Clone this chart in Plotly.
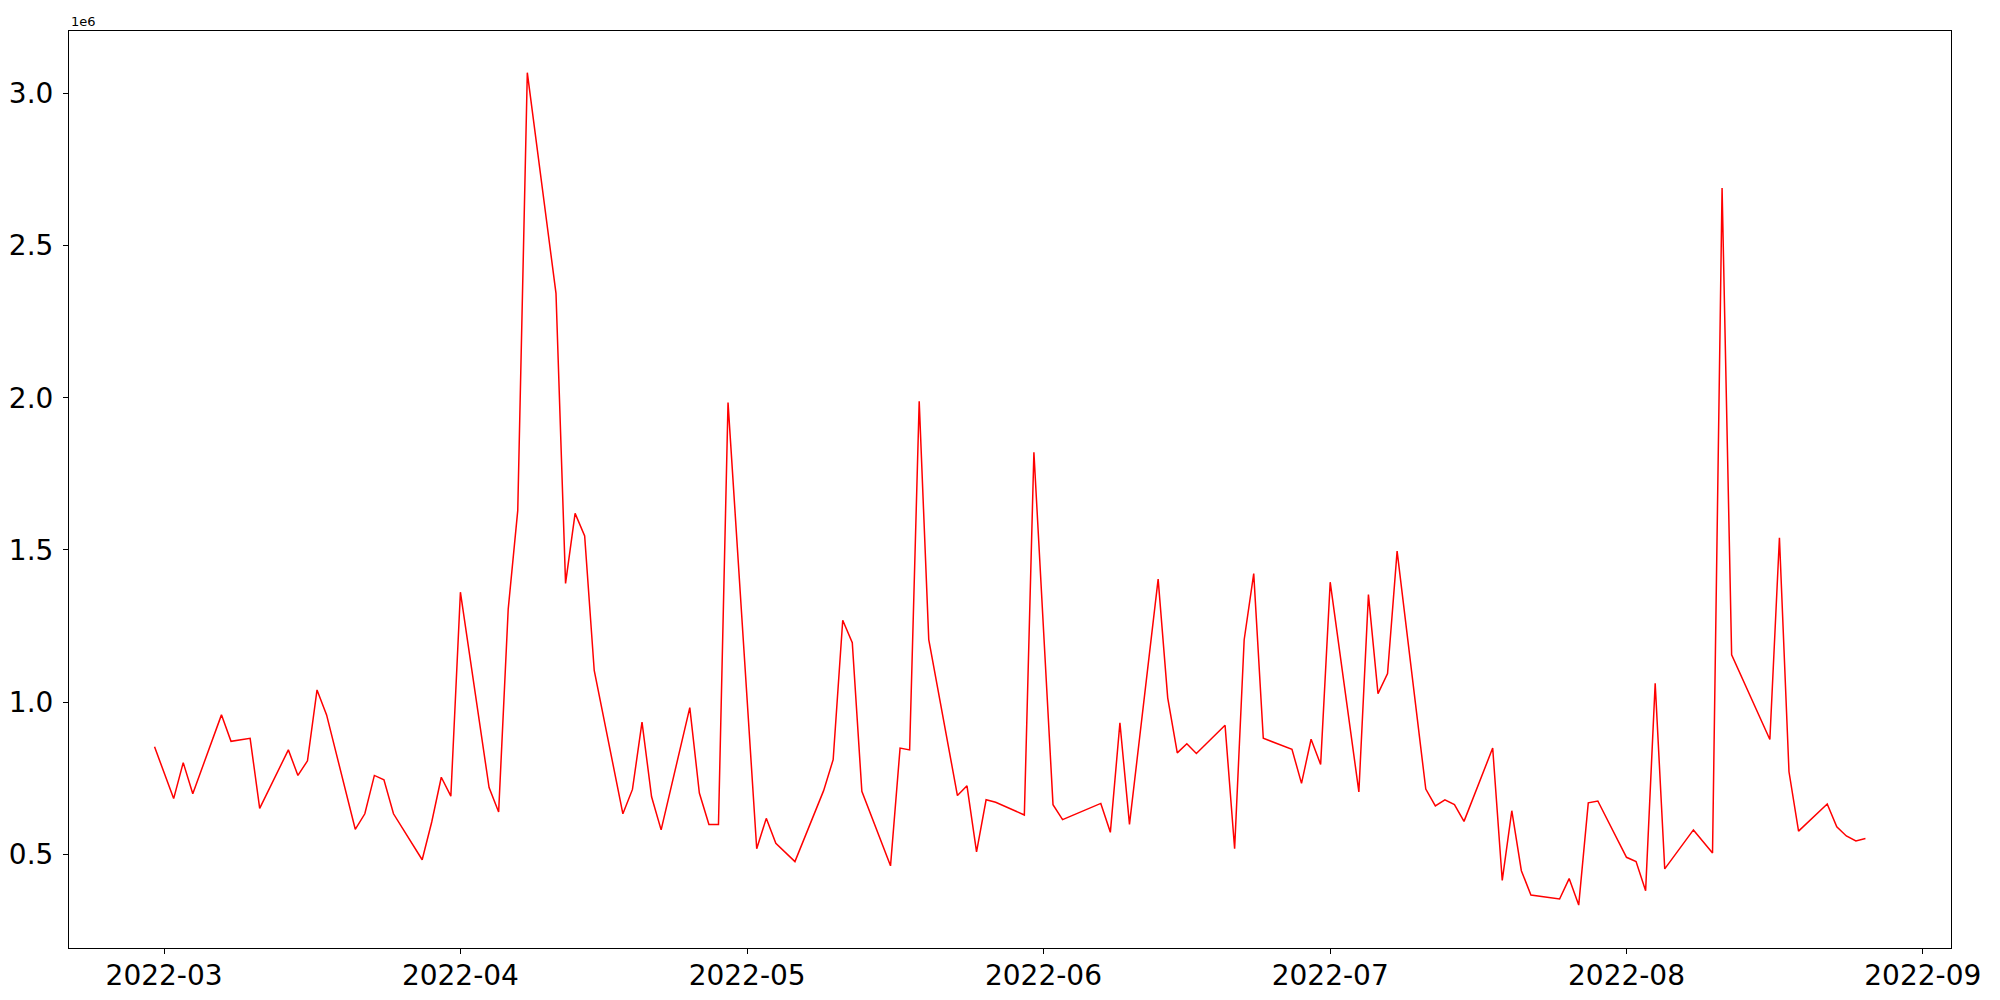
import plotly.graph_objects as go

dates = [
    '2022-02-28', '2022-03-02', '2022-03-03', '2022-03-04', '2022-03-07', '2022-03-08',
    '2022-03-10', '2022-03-11', '2022-03-14', '2022-03-15', '2022-03-16', '2022-03-17',
    '2022-03-18', '2022-03-21', '2022-03-22', '2022-03-23', '2022-03-24', '2022-03-25',
    '2022-03-28', '2022-03-29', '2022-03-30', '2022-03-31', '2022-04-01', '2022-04-04',
    '2022-04-05', '2022-04-06', '2022-04-07', '2022-04-08', '2022-04-11', '2022-04-12',
    '2022-04-13', '2022-04-14', '2022-04-15', '2022-04-18', '2022-04-19', '2022-04-20',
    '2022-04-21', '2022-04-22', '2022-04-25', '2022-04-26', '2022-04-27', '2022-04-28',
    '2022-04-29', '2022-05-02', '2022-05-03', '2022-05-04', '2022-05-06', '2022-05-09',
    '2022-05-10', '2022-05-11', '2022-05-12', '2022-05-13', '2022-05-16', '2022-05-17',
    '2022-05-18', '2022-05-19', '2022-05-20', '2022-05-23', '2022-05-24', '2022-05-25',
    '2022-05-26', '2022-05-27', '2022-05-30', '2022-05-31', '2022-06-02', '2022-06-03',
    '2022-06-07', '2022-06-08', '2022-06-09', '2022-06-10', '2022-06-13', '2022-06-14',
    '2022-06-15', '2022-06-16', '2022-06-17', '2022-06-20', '2022-06-21', '2022-06-22',
    '2022-06-23', '2022-06-24', '2022-06-27', '2022-06-28', '2022-06-29', '2022-06-30',
    '2022-07-01', '2022-07-04', '2022-07-05', '2022-07-06', '2022-07-07', '2022-07-08',
    '2022-07-11', '2022-07-12', '2022-07-13', '2022-07-14', '2022-07-15', '2022-07-18',
    '2022-07-19', '2022-07-20', '2022-07-21', '2022-07-22', '2022-07-25', '2022-07-26',
    '2022-07-27', '2022-07-28', '2022-07-29', '2022-08-01', '2022-08-02', '2022-08-03',
    '2022-08-04', '2022-08-05', '2022-08-08', '2022-08-10', '2022-08-11', '2022-08-12',
    '2022-08-16', '2022-08-17', '2022-08-18', '2022-08-19', '2022-08-22', '2022-08-23',
    '2022-08-24', '2022-08-25', '2022-08-26',
]

volume = [
    853000, 683000, 801000, 699000, 958000, 871000,
    881000, 651000, 843000, 759000, 807000, 1040000,
    958000, 582000, 633000, 759000, 745000, 633000,
    482000, 606000, 753000, 691000, 1361000, 719000,
    639000, 1305000, 1630000, 3068000, 2343000, 1390000,
    1620000, 1546000, 1104000, 633000, 713000, 934000,
    689000, 580000, 982000, 701000, 598000, 598000,
    1984000, 518000, 618000, 536000, 476000, 709000,
    811000, 1269000, 1195000, 707000, 462000, 849000,
    843000, 1988000, 1205000, 693000, 725000, 508000,
    679000, 671000, 629000, 1821000, 663000, 614000,
    667000, 572000, 932000, 598000, 1404000, 1014000,
    833000, 863000, 831000, 924000, 518000, 1205000,
    1422000, 881000, 845000, 733000, 878000, 795000,
    1394000, 705000, 1353000, 1028000, 1094000, 1496000,
    714000, 659000, 679000, 663000, 608000, 849000,
    414000, 643000, 446000, 366000, 353000, 420000,
    333000, 669000, 675000, 490000, 476000, 380000,
    1062000, 452000, 580000, 504000, 2689000, 1155000,
    877000, 1540000, 771000, 576000, 665000, 590000,
    560000, 544000, 552000,
]

month_ticks = ['2022-03-01', '2022-04-01', '2022-05-01', '2022-06-01',
               '2022-07-01', '2022-08-01', '2022-09-01']
y_ticks = [500000, 1000000, 1500000, 2000000, 2500000, 3000000]
y_labels = ['0.5', '1.0', '1.5', '2.0', '2.5', '3.0']

fig = go.Figure()

fig.add_trace(go.Scatter(
    x=dates,
    y=volume,
    mode='lines',
    line=dict(color='red', width=1.5),
    showlegend=False,
))

axis_style = dict(
    showline=True,
    linecolor='black',
    linewidth=1,
    mirror=True,
    showgrid=False,
    zeroline=False,
    automargin=False,
    ticks='outside',
    ticklen=5,
    tickwidth=1,
    tickcolor='black',
    tickfont=dict(family='DejaVu Sans', size=28, color='black'),
)

fig.update_xaxes(
    type='date',
    range=['2022-02-19 01:12', '2022-09-03 22:48'],
    tickvals=month_ticks,
    tickformat='%Y-%m',
    ticklabelstandoff=-3,
    **axis_style,
)
fig.update_yaxes(
    range=[192000, 3205000],
    tickvals=y_ticks,
    ticktext=y_labels,
    ticklabelstandoff=4,
    **axis_style,
)

# offset text like matplotlib's scientific notation
fig.add_annotation(
    text='1e6', x=0, y=1, xref='paper', yref='paper',
    xanchor='left', yanchor='bottom', showarrow=False,
    font=dict(family='DejaVu Sans', size=13, color='black'),
)

# page body has an 8px margin, so the figure is a bit smaller than the window
fig.update_layout(
    width=1984,
    height=984,
    margin=dict(l=61, r=41, t=23, b=44),
    paper_bgcolor='white',
    plot_bgcolor='white',
)

fig.write_html("out.html")
